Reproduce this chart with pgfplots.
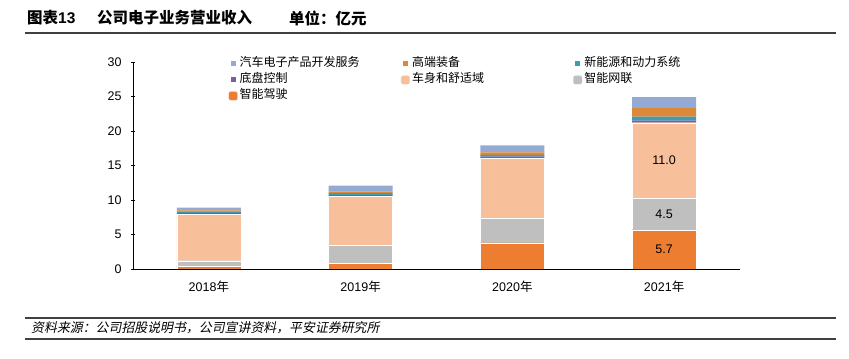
\documentclass[border=0pt]{standalone}
\usepackage{fontspec}
\setmainfont{Liberation Sans}
\newfontfamily\cjk{Noto Sans CJK SC}
\newfontfamily\cjkit{Noto Sans CJK SC}[FakeSlant=0.2]
\usepackage{pgfplots}
\usepackage{pgfplotstable}
\pgfplotsset{compat=1.18}
\definecolor{cDrive}{HTML}{ED7D31}
\definecolor{cNet}{HTML}{BFBFBF}
\definecolor{cBody}{HTML}{F8C09A}
\definecolor{cChassis}{HTML}{7B5E9E}
\definecolor{cEV}{HTML}{3E9BB0}
\definecolor{cHigh}{HTML}{DD8838}
\definecolor{cAuto}{HTML}{93AAD3}
\definecolor{rule}{HTML}{404040}
\pgfplotstableread{
x drive net body chassis ev high auto
0 0.4 0.8 6.7 0.25 0.2 0.15 0.4
1 0.8 2.6 7.1 0.2 0.3 0.2 0.9
2 3.8 3.5 8.7 0.3 0.25 0.35 1.0
3 5.7 4.5 11.0 0.3 0.6 1.2 1.6
}\datatable
\pgfplotsset{
  smallsq/.style={legend image code/.code={\fill[##1] (0bp,-2.5bp) rectangle (5bp,2.5bp);}},
  bigsq/.style={legend image code/.code={\fill[##1, rounded corners=1.5bp] (-2bp,-4.5bp) rectangle (7bp,4.5bp);}},
}
\begin{document}
\begin{tikzpicture}
\path (0,0) rectangle (849bp,359bp);
% title
\node[anchor=west, inner sep=0] at (27bp,341bp) {\fontsize{15.5bp}{18bp}\selectfont\bfseries\cjk 图表\rmfamily 13};
\node[anchor=west, inner sep=0] at (97bp,341bp) {\fontsize{15.5bp}{18bp}\selectfont\bfseries\cjk 公司电子业务营业收入};
\node[anchor=west, inner sep=0] at (289bp,341bp) {\fontsize{15.5bp}{18bp}\selectfont\bfseries\cjk 单位：亿元};
\draw[rule, line width=2bp] (25bp,326bp) -- (836bp,326bp);
% footer
\draw[rule, line width=1.5bp] (25bp,41bp) -- (836bp,41bp);
\draw[rule, line width=2bp] (25bp,20bp) -- (836bp,20bp);
\node[anchor=west, inner sep=0] at (31bp,31bp) {\fontsize{12.9bp}{15bp}\selectfont\cjkit 资料来源：公司招股说明书，公司宣讲资料，平安证券研究所};
\begin{axis}[
  at={(133bp,90bp)}, anchor=south west,
  scale only axis, width=607bp, height=207bp,
  ybar stacked, bar width=64bp,
  xmin=-0.5, xmax=3.5, ymin=0, ymax=30,
  ytick={0,5,...,30},
  xtick={0,1,2,3},
  xticklabels={{2018\cjk 年},{2019\cjk 年},{2020\cjk 年},{2021\cjk 年}},
  x tick style={draw=none},
  extra x ticks={0.5,1.5,2.5},
  extra x tick labels={},
  extra x tick style={xtick align=inside, major tick length=3bp, tick style={draw=black, line width=0.6bp}},
  ytick align=outside, major tick length=4bp,
  y tick style={draw=black, line width=0.6bp},
  axis x line=bottom, axis y line=left,
  axis line style={-, black, line width=0.7bp},
  tick label style={font=\fontsize{12.5bp}{14bp}\selectfont},
  xticklabel style={yshift=-6bp},
  yticklabel style={xshift=-6bp},
  /pgf/number format/assume math mode=true,
  legend columns=3,
  reverse legend,
  legend style={at={(0.152,1.04)}, anchor=north west, draw=none, fill=none,
    font=\fontsize{12bp}{14bp}\selectfont\cjk,
    nodes={text width=159bp, align=left, text height=9bp, text depth=3bp, inner ysep=2bp, inner xsep=2bp},
    /tikz/every even column/.append style={column sep=0bp}},
  legend cell align=left,
]
\addplot[fill=cDrive, draw=white, line width=0.3bp, bigsq] table[x=x,y=drive]{\datatable};
\addlegendentry{智能驾驶}
\addplot[fill=cNet, draw=white, line width=0.3bp, bigsq] table[x=x,y=net]{\datatable};
\addlegendentry{智能网联}
\addplot[fill=cBody, draw=white, line width=0.3bp, bigsq] table[x=x,y=body]{\datatable};
\addlegendentry{车身和舒适域}
\addplot[fill=cChassis, draw=none, smallsq] table[x=x,y=chassis]{\datatable};
\addlegendentry{底盘控制}
\addplot[fill=cEV, draw=none, smallsq] table[x=x,y=ev]{\datatable};
\addlegendentry{新能源和动力系统}
\addplot[fill=cHigh, draw=none, smallsq] table[x=x,y=high]{\datatable};
\addlegendentry{高端装备}
\addplot[fill=cAuto, draw=none, smallsq] table[x=x,y=auto]{\datatable};
\addlegendentry{汽车电子产品开发服务}
\coordinate (la) at (axis cs:3,2.85);
\coordinate (lb) at (axis cs:3,7.95);
\coordinate (lc) at (axis cs:3,15.7);
\end{axis}
\node[font=\fontsize{12.5bp}{14bp}\selectfont] at (la) {5.7};
\node[font=\fontsize{12.5bp}{14bp}\selectfont] at (lb) {4.5};
\node[font=\fontsize{12.5bp}{14bp}\selectfont] at (lc) {11.0};
\end{tikzpicture}
\end{document}
